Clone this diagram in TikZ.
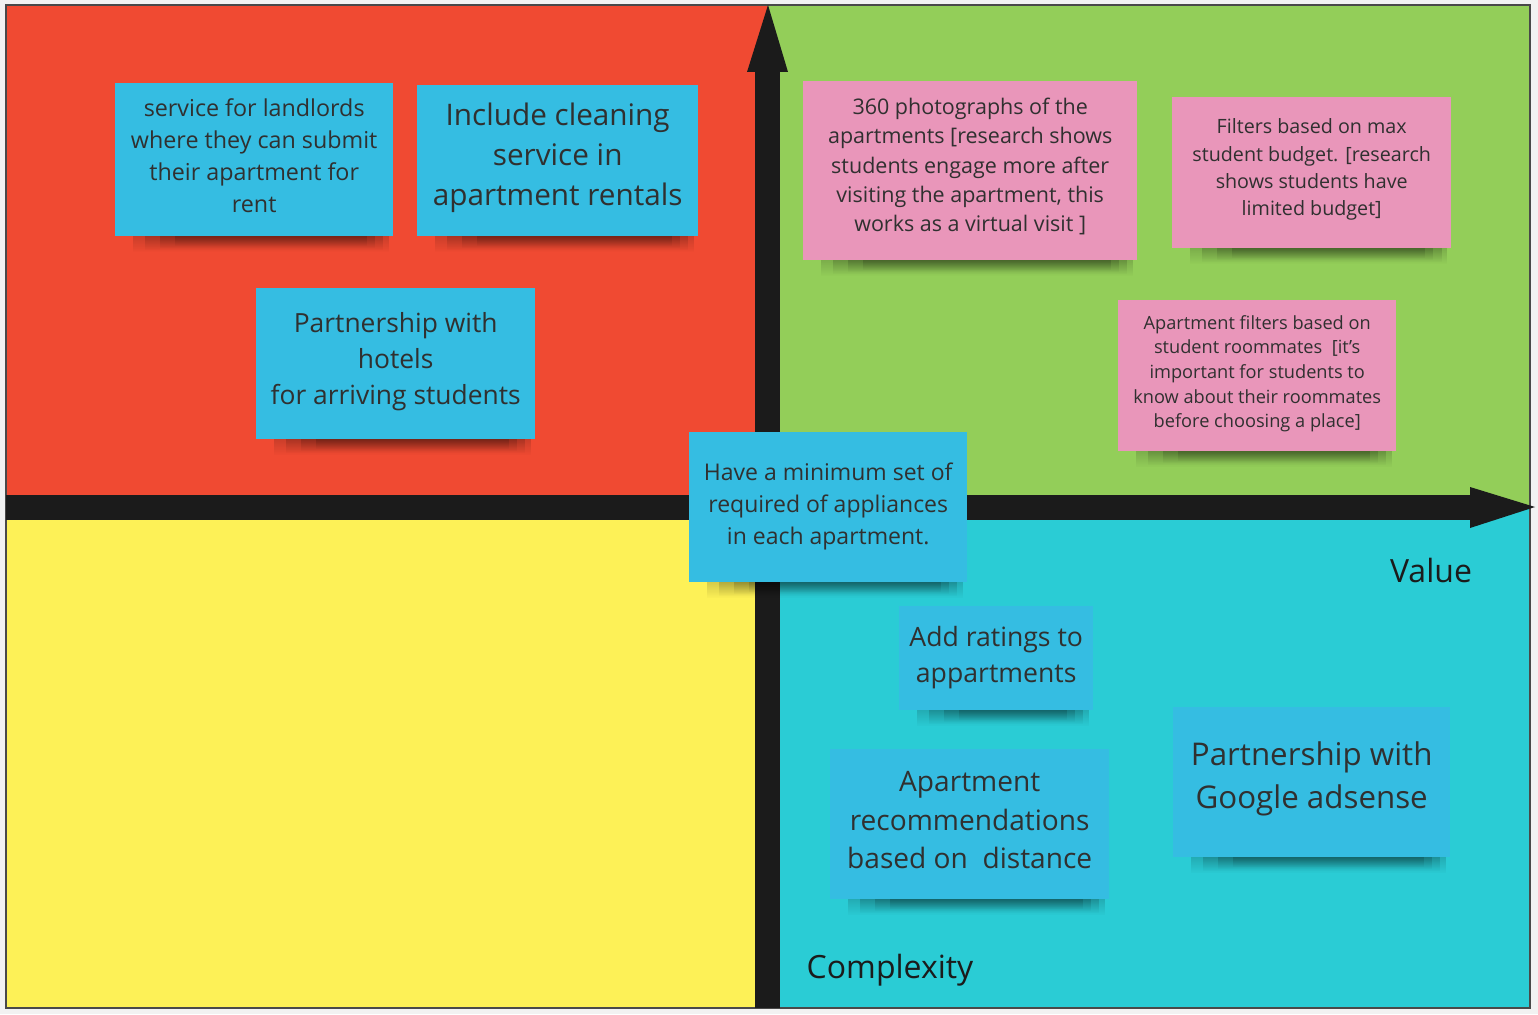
\documentclass[tikz,border=0pt]{standalone}
\usepackage{fontspec}
\setmainfont{Open Sans}
\usetikzlibrary{fadings}
\definecolor{qred}{HTML}{F04A32}
\definecolor{qgreen}{HTML}{93CE59}
\definecolor{qyellow}{HTML}{FDF157}
\definecolor{qcyan}{HTML}{2ACCD5}
\definecolor{sblue}{HTML}{35BDE2}
\definecolor{spink}{HTML}{E996BA}
\definecolor{txt}{HTML}{303030}
\definecolor{axis}{HTML}{1B1B1B}
\definecolor{bg}{HTML}{F2F2F2}
\newcommand{\fsz}[2]{\fontsize{#1pt}{#2pt}\selectfont}
\pgfdeclarelayer{back}
\pgfdeclarelayer{shadow}
\pgfsetlayers{back,shadow,main}
\tikzfading[name=shfade, top color=transparent!10, bottom color=transparent!100]
\tikzset{
  stickybox/.style={inner sep=0pt, anchor=north west},
  stickytext/.style={inner sep=0pt, align=center, text=txt},
  axislabel/.style={text=axis, inner sep=0pt, font=\fsz{32}{40}},
  shadowband/.style={fill=black, opacity=0.17, path fading=shfade},
}
\begin{document}
\begin{tikzpicture}[x=1pt,y=-1pt]
\useasboundingbox (0,0) rectangle (1538,1014);
\begin{pgfonlayer}{back}
\fill[bg] (0,0) rectangle (1538,1014);
% quadrants
\fill[qred] (6,5) rectangle (768,507);
\fill[qgreen] (768,5) rectangle (1530,507);
\fill[qyellow] (6,507) rectangle (768,1008);
\fill[qcyan] (768,507) rectangle (1530,1008);
\draw[axis!80, line width=1.5pt] (6,5) rectangle (1530,1008);
% axes
\fill[axis] (755,72) rectangle (780,1008);
\fill[axis] (747,72) -- (788,72) -- (768,5) -- cycle;
\fill[axis] (6,495) rectangle (1471,520);
\fill[axis] (1470,487) -- (1470,528) -- (1535,507) -- cycle;
\end{pgfonlayer}
% labels
\node[axislabel, anchor=center] (value) at (1431,570) {Value};
\node[axislabel, anchor=center] (complexity) at (890,970) {Complexity};
% stickies
\node[stickybox, fill=sblue, minimum width=278pt, minimum height=153pt] (s1) at (115,83) {};
\node[stickytext, font=\fsz{23.3}{32.3}] (s1t) at ([yshift=4pt]s1.center)
  {service for landlords\\where they can submit\\their apartment for\\rent};
\node[stickybox, fill=sblue, minimum width=281pt, minimum height=151pt] (s2) at (417,85) {};
\node[stickytext, font=\fsz{29.7}{40}] (s2t) at ([yshift=3pt]s2.center)
  {Include cleaning\\service in\\apartment rentals};
\node[stickybox, fill=sblue, minimum width=279pt, minimum height=151pt] (s3) at (256,288) {};
\node[stickytext, font=\fsz{26.4}{36}] (s3t) at ([yshift=2pt]s3.center)
  {Partnership with\\hotels\\for arriving students};
\node[stickybox, fill=spink, minimum width=334pt, minimum height=179pt] (s4) at (803,81) {};
\node[stickytext, font=\fsz{21.5}{29.3}] (s4t) at ([yshift=4pt]s4.center)
  {360 photographs of the\\apartments [research shows\\students engage more after\\visiting the apartment, this\\works as a virtual visit ]};
\node[stickybox, fill=spink, minimum width=279pt, minimum height=151pt] (s5) at (1172,97) {};
\node[stickytext, font=\fsz{19.7}{27.3}] (s5t) at ([yshift=3pt]s5.center)
  {Filters based on max\\student budget. [research\\shows students have\\limited budget]};
\node[stickybox, fill=spink, minimum width=278pt, minimum height=151pt] (s6) at (1118,300) {};
\node[stickytext, font=\fsz{18.2}{24.7}] (s6t) at ([yshift=2pt]s6.center)
  {Apartment filters based on\\student roommates\ \ [it's\\important for students to\\know about their roommates\\before choosing a place]};
\node[stickybox, fill=sblue, minimum width=278pt, minimum height=150pt] (s7) at (689,432) {};
\node[stickytext, font=\fsz{23}{32}] (s7t) at ([yshift=1pt]s7.center)
  {Have a minimum set of\\required of appliances\\in each apartment.};
\node[stickybox, fill=sblue, minimum width=194pt, minimum height=104pt] (s8) at (899,606) {};
\node[stickytext, font=\fsz{26.6}{36}] (s8t) at ([yshift=1pt]s8.center)
  {Add ratings to\\appartments};
\node[stickybox, fill=sblue, minimum width=279pt, minimum height=150pt] (s9) at (830,749) {};
\node[stickytext, font=\fsz{28.1}{38.5}] (s9t) at ([yshift=4pt]s9.center)
  {Apartment\\recommendations\\based on\ \ distance};
\node[stickybox, fill=sblue, minimum width=277pt, minimum height=150pt] (s10) at (1173,707) {};
\node[stickytext, font=\fsz{31.3}{43}] (s10t) at ([yshift=3pt]s10.center)
  {Partnership with\\Google adsense};
% shadows
\begin{pgfonlayer}{shadow}
\foreach \n in {s1,s2,s3,s4,s5,s6,s7,s8,s9,s10}{
  \foreach \l/\r/\d in {18/4/16, 30/10/14, 45/18/12, 60/26/10}{
    \fill[shadowband] ([xshift=\l pt]\n.south west) rectangle ([xshift=-\r pt,yshift=-\d pt]\n.south east);
  }
}
\end{pgfonlayer}
\end{tikzpicture}
\end{document}
